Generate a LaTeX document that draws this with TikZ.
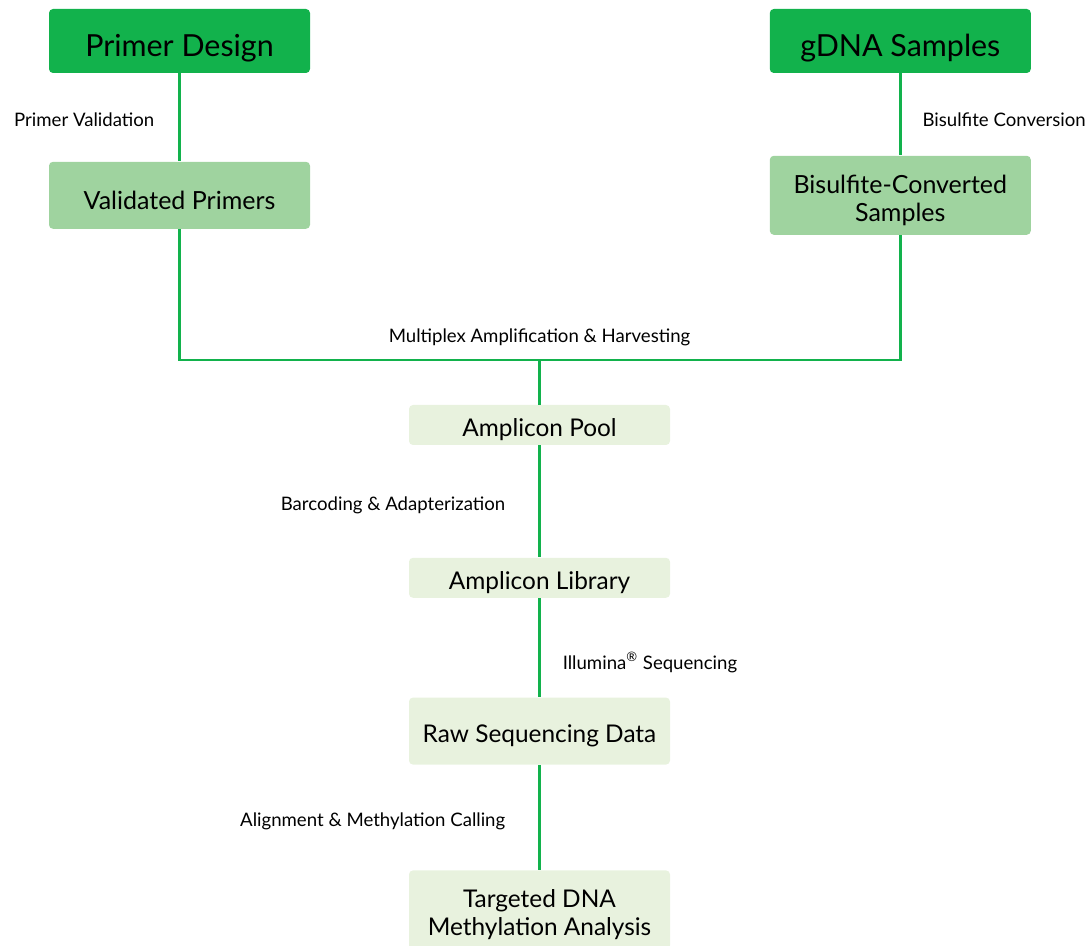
\documentclass[tikz,border=0pt]{standalone}
\usepackage{fontspec}
\setmainfont{Lato}
\usepackage{tikz}
\usetikzlibrary{positioning}

\definecolor{stepgreen}{HTML}{12B24C}
\definecolor{midgreen}{HTML}{9FD39F}
\definecolor{palegreen}{HTML}{E8F2DE}

% drop a line of box text a little below the box centre
\newcommand{\dn}[2][2.5pt]{\raisebox{-#1}[\height][\depth]{#2}}

\begin{document}
\begin{tikzpicture}[
x=0.5pt, y=-0.5pt,
topbox/.style={fill=stepgreen, rounded corners=2pt, align=center, minimum width=130.5pt, minimum height=32pt, inner sep=2pt, font=\fontsize{15.2}{17}\selectfont},
midbox/.style={fill=midgreen, rounded corners=2pt, align=center, minimum width=130.5pt, minimum height=33.5pt, inner sep=2pt, font=\fontsize{12.5}{14}\selectfont},
lowbox/.style={fill=palegreen, rounded corners=2pt, align=center, minimum width=130.5pt, minimum height=20pt, inner sep=2pt, font=\fontsize{12.2}{14}\selectfont},
lbl/.style={font=\fontsize{9.3}{11}\selectfont, inner sep=0pt},
link/.style={draw=stepgreen, line width=1.25pt}
]
\useasboundingbox (0,0) rectangle (1089,946);

\node[topbox] (pd) at (179.5,41) {\dn[3.5pt]{Primer Design}};
\node[topbox, right=229.5pt of pd] (gd) {\dn[3.5pt]{gDNA Samples}};
\node[midbox, below=44pt of pd] (vp) {\dn{Validated Primers}};
\node[midbox, below=41pt of gd, minimum height=39.5pt] (bc) {\dn{Bisulfite-Converted}\\\dn{Samples}};
\node[lowbox] (pool) at (539.5,425) {\dn{Amplicon Pool}};
\node[lowbox, below=56pt of pool] (lib) {\dn{Amplicon Library}};
\node[lowbox, below=49.5pt of lib, minimum height=33.5pt] (raw) {\dn{Raw Sequencing Data}};
\node[lowbox, below=52.5pt of raw, minimum height=39.5pt] (tdm) {\dn{Targeted DNA}\\\dn{Methylation Analysis}};
\coordinate (junc) at (539.5,360);

\draw[link] (pd) -- node[lbl, left=12pt, pos=0.525] {Primer Validation} (vp);
\draw[link] (gd) -- node[lbl, right=10.5pt, pos=0.56] {Bisulfite Conversion} (bc);
\draw[link] (vp.south) |- (junc) -| (bc.south);
\node[lbl, above=7pt of junc] (multi) {Multiplex Amplification \& Harvesting};
\draw[link] (junc) -- (pool);
\draw[link] (pool) -- node[lbl, left=16.5pt, pos=0.536] {Barcoding \& Adapterization} (lib);
\draw[link] (lib) -- node[lbl, right=11pt, pos=0.65] {Illumina\textsuperscript{®} Sequencing} (raw);
\draw[link] (raw) -- node[lbl, left=16.5pt, pos=0.533] {Alignment \& Methylation Calling} (tdm);
\end{tikzpicture}
\end{document}
